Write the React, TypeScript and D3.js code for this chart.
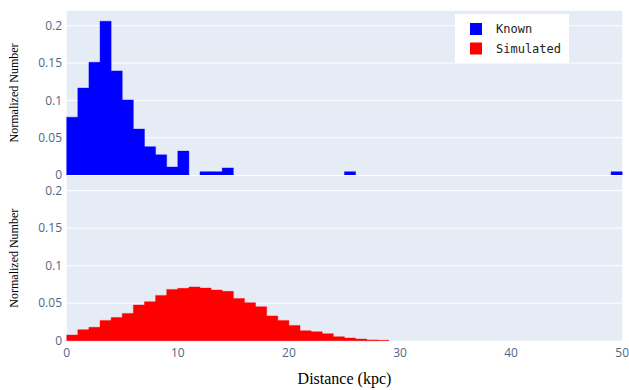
import React from "react";
import * as d3 from "d3";

const knownBinStarts = [0, 1, 2, 3, 4, 5, 6, 7, 8, 9, 10, 12, 13, 14, 25, 49];
const knownValues = [0.0775, 0.1165, 0.151, 0.206, 0.1395, 0.1005, 0.0615, 0.038, 0.027, 0.0107, 0.032, 0.0045, 0.0045, 0.0095, 0.0045, 0.0045];

const simBinStarts = [0, 1, 2, 3, 4, 5, 6, 7, 8, 9, 10, 11, 12, 13, 14, 15, 16, 17, 18, 19, 20, 21, 22, 23, 24, 25, 26, 27, 28];
const simValues = [0.0076, 0.0147, 0.0178, 0.0271, 0.031, 0.0364, 0.0476, 0.052, 0.0604, 0.0684, 0.0698, 0.0716, 0.0702, 0.0676, 0.0658, 0.0564, 0.0507, 0.0453, 0.033, 0.0271, 0.0204, 0.0133, 0.012, 0.0093, 0.0053, 0.0036, 0.0022, 0.0011, 0.0006];

const binWidth = 1;
const xTicks = [0, 10, 20, 30, 40, 50];
const yTicks = [0, 0.05, 0.1, 0.15, 0.2];
const yTickLabels = ["0", "0.05", "0.1", "0.15", "0.2"];
const legendLabels = ["Known", "Simulated"];
const colors = ["#0000ff", "#ff0000"];

const W = 629;
const H = 390;
const left = 66.7;
const right = 622.2;

export default function App() {
  const x = d3.scaleLinear().domain([0, 50]).range([left, right]);
  const yTop = d3.scaleLinear().domain([0, 0.22]).range([175, 10.8]);
  const yBot = d3.scaleLinear().domain([0, 0.22]).range([340.7, 175.7]);
  const tickColor = "#506784";
  const tickFont = "'Open Sans', sans-serif";

  const barsPath = (y: d3.ScaleLinear<number, number>, starts: number[], vals: number[]) => {
    const p = d3.path();
    starts.forEach((s, i) => {
      const x0 = x(s);
      const x1 = x(s + binWidth);
      p.rect(x0, y(vals[i]), x1 - x0, y(0) - y(vals[i]));
    });
    return p.toString();
  };

  const panel = (
    y: d3.ScaleLinear<number, number>,
    starts: number[],
    vals: number[],
    color: string,
    key: string
  ) => {
    const [y0, y1] = y.range();
    return (
      <g key={key}>
        <rect x={left} y={y1} width={right - left} height={y0 - y1} fill="#E5ECF6" />
        {yTicks.slice(1).map((t) => (
          <line key={t} x1={left} x2={right} y1={y(t)} y2={y(t)} stroke="#fff" strokeWidth={1} />
        ))}
        <path d={barsPath(y, starts, vals)} fill={color} stroke={color} strokeWidth={0.4} />
        {yTicks.map((t, i) => (
          <text
            key={t}
            x={62}
            y={y(t)}
            dy="0.35em"
            textAnchor="end"
            fontFamily={tickFont}
            fontSize={12}
            fill={tickColor}
          >
            {yTickLabels[i]}
          </text>
        ))}
        <text
          transform={`translate(18,${(y0 + y1) / 2}) rotate(-90)`}
          textAnchor="middle"
          fontFamily="'Liberation Serif', 'Times New Roman', serif"
          fontSize={12}
          fill="#000"
        >
          Normalized Number
        </text>
      </g>
    );
  };

  return (
    <svg
      width={W}
      height={H}
      style={{ position: "absolute", left: 0, top: 0, background: "#fff" }}
    >
      {panel(yBot, simBinStarts, simValues, colors[1], "bot")}
      {panel(yTop, knownBinStarts, knownValues, colors[0], "top")}
      <line x1={left} x2={right} y1={yTop(0) + 0.5} y2={yTop(0) + 0.5} stroke="#fff" strokeWidth={1.2} />
      {xTicks.map((t) => (
        <text
          key={t}
          x={x(t)}
          y={357}
          textAnchor="middle"
          fontFamily={tickFont}
          fontSize={12}
          fill={tickColor}
        >
          {t}
        </text>
      ))}
      <text
        x={(left + right) / 2}
        y={384}
        textAnchor="middle"
        fontFamily="'Liberation Serif', 'Times New Roman', serif"
        fontSize={16}
        fill="#000"
      >
        Distance (kpc)
      </text>
      <g>
        <rect x={455} y={14} width={114} height={49} fill="#fff" />
        {legendLabels.map((l, i) => (
          <g key={l}>
            <rect x={470} y={23 + i * 19.5} width={12} height={12} fill={colors[i]} />
            <text
              x={496}
              y={29 + i * 19.5}
              dy="0.35em"
              fontFamily="'DejaVu Sans Mono', monospace"
              fontSize={12}
              fill="#222"
            >
              {l}
            </text>
          </g>
        ))}
      </g>
    </svg>
  );
}
